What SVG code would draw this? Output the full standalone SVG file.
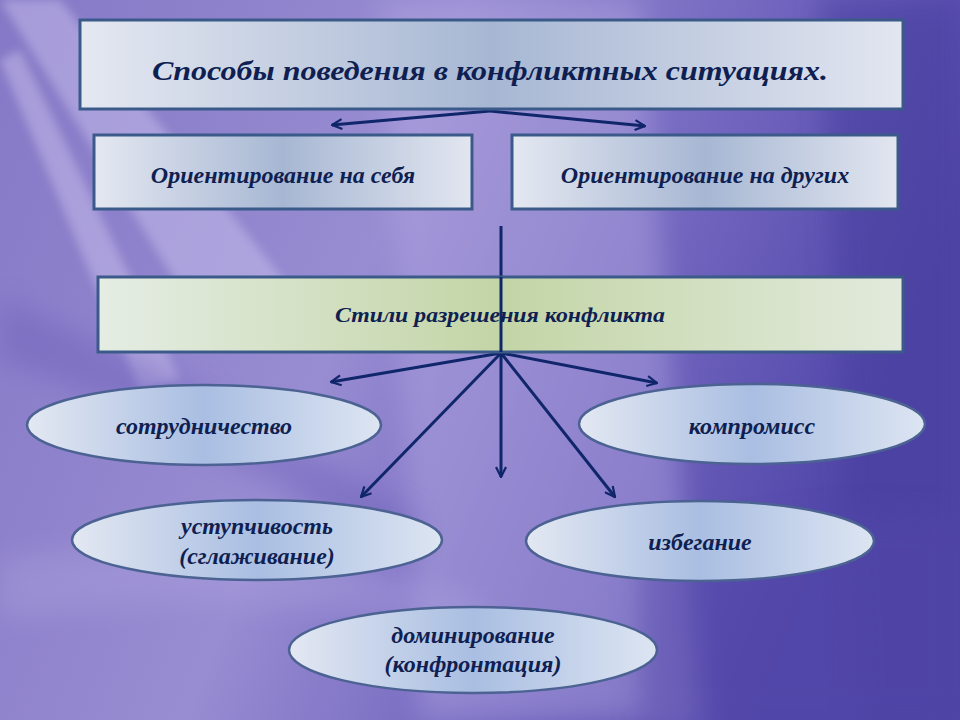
<svg xmlns="http://www.w3.org/2000/svg" width="960" height="720" viewBox="0 0 960 720">
<defs>
<linearGradient id="bg" x1="0" y1="0" x2="1" y2="0.3">
<stop offset="0" stop-color="#8578c6"/>
<stop offset="0.45" stop-color="#988cd2"/>
<stop offset="0.75" stop-color="#7064be"/>
<stop offset="1" stop-color="#5046a8"/>
</linearGradient>
<linearGradient id="boxg" x1="0" y1="0" x2="1" y2="0">
<stop offset="0" stop-color="#e4e8f1"/>
<stop offset="0.5" stop-color="#a7b7d3"/>
<stop offset="1" stop-color="#e2e6f0"/>
</linearGradient>
<linearGradient id="greeng" x1="0" y1="0" x2="1" y2="0">
<stop offset="0" stop-color="#e5ede4"/>
<stop offset="0.5" stop-color="#c3d5a6"/>
<stop offset="1" stop-color="#e2eadc"/>
</linearGradient>
<linearGradient id="ellg" x1="0" y1="0" x2="1" y2="0">
<stop offset="0" stop-color="#e3e8f2"/>
<stop offset="0.5" stop-color="#a9bee2"/>
<stop offset="1" stop-color="#dde5f2"/>
</linearGradient>
<filter id="blur" x="-20%" y="-20%" width="140%" height="140%"><feGaussianBlur stdDeviation="14"/></filter>
<filter id="blur2" x="-20%" y="-20%" width="140%" height="140%"><feGaussianBlur stdDeviation="5"/></filter>
<marker id="arr" viewBox="0 0 12 12" refX="11" refY="6" markerWidth="12" markerHeight="12" markerUnits="userSpaceOnUse" orient="auto">
<path d="M1,1 L11,6 L1,11" fill="none" stroke="#10266a" stroke-width="2.2"/>
</marker>
<style>
.box{stroke:#3b5a8a;stroke-width:3}
.ell{fill:url(#ellg);stroke:#4b6292;stroke-width:2.5}
.t{font-family:"Liberation Serif","Times New Roman",serif;font-weight:bold;font-style:italic;fill:#0f1f52;text-anchor:middle}
.con{stroke:#10266a;stroke-width:3;fill:none}
</style>
</defs>
<g id="background">
<rect width="960" height="720" fill="url(#bg)"/>
<path d="M380,0 L640,0 L700,720 L420,720 Z" fill="#b4a8e2" opacity="0.45" filter="url(#blur)"/>
<path d="M820,0 L960,0 L960,720 L860,720 Z" fill="#4a3fa0" opacity="0.6" filter="url(#blur)"/>
<path d="M0,0 L60,0 L300,300 L200,320 Z" fill="#c8c0ec" opacity="0.5" filter="url(#blur2)"/>
<path d="M0,60 L20,50 L180,380 L140,390 Z" fill="#d0c8f0" opacity="0.45" filter="url(#blur2)"/>
<path d="M0,300 Q200,380 420,520 L400,560 Q180,420 0,360 Z" fill="#6a5cb8" opacity="0.4" filter="url(#blur)"/>
<path d="M0,560 Q250,520 480,600 L480,640 Q240,580 0,620 Z" fill="#b0a6e0" opacity="0.35" filter="url(#blur)"/>
<path d="M640,560 Q800,500 960,520 L960,720 L640,720 Z" fill="#5246aa" opacity="0.5" filter="url(#blur)"/>
</g>
<g id="connectors">
<line class="con" x1="490" y1="111" x2="332" y2="125" marker-end="url(#arr)"/>
<line class="con" x1="490" y1="111" x2="645" y2="126" marker-end="url(#arr)"/>
<line class="con" x1="501" y1="226" x2="501" y2="353"/>
<line class="con" x1="501" y1="353" x2="331" y2="382" marker-end="url(#arr)"/>
<line class="con" x1="501" y1="353" x2="657" y2="383" marker-end="url(#arr)"/>
<line class="con" x1="501" y1="353" x2="361" y2="497" marker-end="url(#arr)"/>
<line class="con" x1="501" y1="353" x2="501" y2="477" marker-end="url(#arr)"/>
<line class="con" x1="501" y1="353" x2="615" y2="497" marker-end="url(#arr)"/>
</g>
<g id="title">
<rect class="box" x="80" y="20" width="823" height="89" fill="url(#boxg)"/>
<text class="t" x="490" y="80" font-size="28" textLength="676" lengthAdjust="spacingAndGlyphs">Способы поведения в конфликтных ситуациях.</text>
</g>
<g id="self">
<rect class="box" x="94" y="135" width="378" height="74" fill="url(#boxg)"/>
<text class="t" x="283" y="183" font-size="24">Ориентирование на себя</text>
</g>
<g id="others">
<rect class="box" x="512" y="135" width="386" height="74" fill="url(#boxg)"/>
<text class="t" x="705" y="183" font-size="24">Ориентирование на других</text>
</g>
<g id="styles">
<rect class="box" x="98" y="277" width="805" height="75" fill="url(#greeng)"/>
<line class="con" x1="501" y1="277" x2="501" y2="352"/>
<text class="t" x="500" y="322" font-size="22" textLength="330" lengthAdjust="spacingAndGlyphs">Стили разрешения конфликта</text>
</g>
<g id="cooperation">
<ellipse class="ell" cx="204" cy="425" rx="177" ry="40"/>
<text class="t" x="204" y="434" font-size="24">сотрудничество</text>
</g>
<g id="compromise">
<ellipse class="ell" cx="752" cy="424" rx="173" ry="40"/>
<text class="t" x="752" y="434" font-size="24">компромисс</text>
</g>
<g id="accommodation">
<ellipse class="ell" cx="257" cy="540" rx="185" ry="40"/>
<text class="t" x="257" y="534" font-size="24">уступчивость</text>
<text class="t" x="257" y="564" font-size="24">(сглаживание)</text>
</g>
<g id="avoidance">
<ellipse class="ell" cx="700" cy="541" rx="174" ry="40"/>
<text class="t" x="700" y="550" font-size="24">избегание</text>
</g>
<g id="domination">
<ellipse class="ell" cx="473" cy="650" rx="184" ry="43"/>
<text class="t" x="473" y="643" font-size="24">доминирование</text>
<text class="t" x="473" y="672" font-size="24">(конфронтация)</text>
</g>
</svg>
